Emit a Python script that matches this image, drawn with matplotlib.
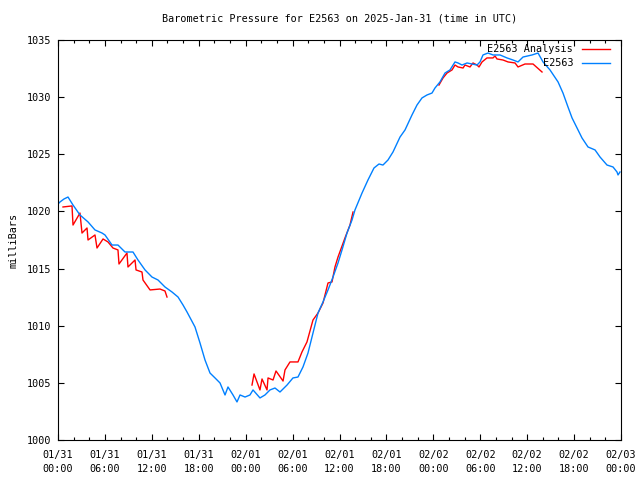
import matplotlib
matplotlib.use("Agg")
import matplotlib.pyplot as plt
import matplotlib.dates as mdates
import numpy as np
from datetime import datetime, timedelta

start = datetime(2025, 1, 31, 0, 0)

# station E2563 observations (hours after 2025-01-31 00:00 UTC, mb)
obs_hours = [0.0, 0.26, 0.77, 1.28, 1.92, 2.81, 3.84, 4.73, 5.63, 6.01, 6.91, 7.67,
             8.57, 9.59, 10.23, 11.13, 12.02, 12.79, 13.68, 14.58, 15.35, 15.99, 16.50,
             17.52, 18.16, 18.80, 19.44, 20.08, 20.72, 21.36, 21.74, 22.38, 22.89, 23.28,
             23.92, 24.55, 24.94, 25.83, 26.47, 27.11, 27.75, 28.39, 29.29, 30.05, 30.69,
             31.33, 31.97, 32.61, 33.25, 33.89, 34.53, 35.17, 35.81, 36.32, 36.96, 37.60,
             37.98, 38.88, 39.64, 40.41, 41.05, 41.56, 42.20, 42.84, 43.74, 44.38, 45.27,
             45.91, 46.55, 47.19, 47.83, 48.21, 48.85, 49.49, 50.13, 50.77, 51.16, 51.67,
             52.31, 52.95, 53.59, 53.97, 54.35, 54.99, 55.63, 56.53, 57.42, 58.19, 58.83,
             59.47, 60.62, 61.39, 62.03, 62.92, 63.95, 64.58, 65.22, 65.74, 66.38, 67.01,
             67.78, 68.68, 69.32, 70.21, 70.98, 71.49, 71.62, 71.87]
obs_mb = [1020.65, 1020.83, 1021.09, 1021.26, 1020.56, 1019.69, 1019.08, 1018.38, 1018.11,
          1017.94, 1017.06, 1017.06, 1016.45, 1016.45, 1015.75, 1014.88, 1014.26, 1014.00,
          1013.39, 1012.95, 1012.51, 1011.81, 1011.20, 1009.89, 1008.49, 1007.00, 1005.86,
          1005.43, 1004.99, 1003.94, 1004.64, 1003.94, 1003.33, 1003.94, 1003.76, 1003.94,
          1004.38, 1003.68, 1003.94, 1004.38, 1004.55, 1004.20, 1004.81, 1005.43, 1005.51,
          1006.39, 1007.61, 1009.36, 1011.11, 1012.08, 1013.13, 1014.26, 1015.49, 1016.63,
          1018.11, 1019.25, 1020.13, 1021.61, 1022.75, 1023.80, 1024.15, 1024.06, 1024.50,
          1025.20, 1026.51, 1027.13, 1028.44, 1029.31, 1029.93, 1030.19, 1030.36, 1030.80,
          1031.33, 1032.11, 1032.38, 1033.08, 1032.99, 1032.81, 1032.99, 1032.90, 1032.81,
          1033.08, 1033.69, 1033.86, 1033.69, 1033.69, 1033.43, 1033.25, 1033.08, 1033.51,
          1033.69, 1033.86, 1033.08, 1032.38, 1031.33, 1030.36, 1029.14, 1028.18, 1027.30,
          1026.43, 1025.64, 1025.38, 1024.76, 1024.06, 1023.89, 1023.45, 1023.19, 1023.45]

# analysis values, NaN marks the gaps
ana_hours = [0.64, 1.79, 1.92, 2.81, 3.07, 3.71, 3.84, 4.73, 4.99, 5.76, 6.39, 7.03, 7.67,
             7.80, 8.82, 8.95, 9.85, 9.98, 10.74, 10.87, 11.77, 13.04, 13.68, 13.94,
             19.0,
             24.81, 25.07, 25.83, 26.09, 26.73, 26.86, 27.50, 27.88, 28.78, 29.03, 29.67,
             30.69, 31.20, 31.84, 32.61, 33.25, 33.89, 34.53, 35.04, 35.42, 35.81, 36.70,
             37.34, 37.73,
             43.0,
             48.72, 49.24, 49.75, 50.39, 50.77, 51.16, 51.80, 52.05, 52.69, 53.07, 53.59,
             53.84, 54.23, 54.86, 55.63, 55.89, 56.14, 56.91, 57.55, 58.45, 58.83, 59.72,
             60.75, 61.90]
ana_mb = [1020.39, 1020.48, 1018.81, 1019.86, 1018.11, 1018.55, 1017.50, 1017.94, 1016.80,
          1017.59, 1017.33, 1016.80, 1016.63, 1015.40, 1016.36, 1015.14, 1015.75, 1014.88,
          1014.70, 1014.00, 1013.13, 1013.21, 1013.04, 1012.51,
          np.nan,
          1004.81, 1005.78, 1004.38, 1005.34, 1004.38, 1005.43, 1005.25, 1006.04, 1005.16,
          1006.13, 1006.83, 1006.83, 1007.70, 1008.58, 1010.50, 1011.11, 1011.99, 1013.74,
          1013.83, 1015.14, 1016.01, 1017.68, 1018.81, 1019.95,
          np.nan,
          1031.06, 1031.68, 1032.11, 1032.38, 1032.81, 1032.64, 1032.55, 1032.81, 1032.64,
          1032.99, 1032.81, 1032.64, 1033.08, 1033.43, 1033.43, 1033.60, 1033.34, 1033.25,
          1033.08, 1032.99, 1032.64, 1032.90, 1032.90, 1032.20]

obs_t = [start + timedelta(hours=h) for h in obs_hours]
ana_t = [start + timedelta(hours=h) for h in ana_hours]

plt.rcParams['font.family'] = 'DejaVu Sans Mono'
plt.rcParams['font.size'] = 7.3

fig = plt.figure(figsize=(6.4, 4.8), dpi=100)
ax = fig.add_axes([58/640, 40/480, 563/640, 400/480])

ax.plot(ana_t, ana_mb, color='#ff0000', lw=1.0)
ax.plot(obs_t, obs_mb, color='#0080ff', lw=1.0)

ax.set_xlim(start, start + timedelta(hours=72))
ax.set_ylim(1000, 1035)
ax.set_yticks(range(1000, 1036, 5))
ax.xaxis.set_major_locator(mdates.HourLocator(byhour=range(0, 24, 6)))
ax.xaxis.set_minor_locator(mdates.HourLocator(byhour=range(0, 24, 2)))
ax.xaxis.set_major_formatter(mdates.DateFormatter('%m/%d\n%H:%M'))
ax.tick_params(which='both', direction='in', top=True, right=True)
ax.tick_params(axis='x', pad=7)
ax.tick_params(axis='y', pad=5)
ax.tick_params(which='major', length=4, width=0.8)
ax.tick_params(which='minor', length=2.5, width=0.8)
for lbl in ax.get_xticklabels():
    lbl.set_linespacing(1.55)

ax.set_ylabel('milliBars', labelpad=6)
ax.set_title('Barometric Pressure for E2563 on 2025-Jan-31 (time in UTC)',
             fontsize=7.3, pad=13)

# gnuplot style key: text right aligned, sample line after it
keys = [('E2563 Analysis', '#ff0000', 0.9775), ('E2563', '#0080ff', 0.9425)]
for label, col, yk in keys:
    ax.text(0.915, yk, label, transform=ax.transAxes, ha='right', va='center')
    ax.plot([0.931, 0.980], [yk, yk], color=col, lw=1.0, transform=ax.transAxes)

fig.savefig('out.png', dpi=100)
